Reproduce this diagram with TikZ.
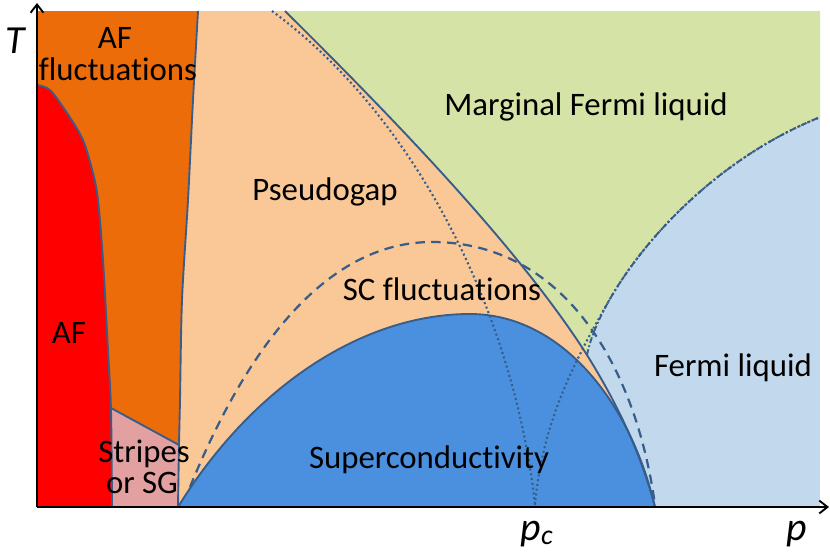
\documentclass[tikz,border=0pt]{standalone}
\usepackage{fontspec}
\setmainfont{Carlito}[Ligatures={NoCommon}]
\usetikzlibrary{arrows.meta}
\definecolor{afred}{RGB}{255,0,0}
\definecolor{aforange}{RGB}{236,108,10}
\definecolor{peach}{RGB}{250,200,150}
\definecolor{mfl}{RGB}{213,227,167}
\definecolor{flblue}{RGB}{194,217,237}
\definecolor{scblue}{RGB}{74,144,222}
\definecolor{sgpink}{RGB}{227,160,160}
\definecolor{linec}{RGB}{56,93,138}
\tikzset{
  bnd/.style={draw=linec, line width=1.6pt},
  dashbnd/.style={draw=linec, line width=1.9pt, dash pattern=on 8pt off 5.5pt},
  dotbnd/.style={draw=linec, line width=1.8pt, dash pattern=on 1.7pt off 2.4pt},
  dashdotbnd/.style={draw=linec, line width=1.6pt, dash pattern=on 5pt off 2pt on 1.6pt off 2pt},
  axisline/.style={draw=black, line width=2.4pt, -{Straight Barb[length=7pt,width=11pt,line width=1.6pt]}},
  lbl/.style={font=\fontsize{28}{28}\selectfont, inner sep=0pt, anchor=base},
  axlbl/.style={font=\fontsize{34}{34}\selectfont\itshape, inner sep=0pt, anchor=base}
}
\begin{document}
\begin{tikzpicture}[x=0.03cm,y=-0.03cm,line join=round]
\useasboundingbox (0,0) rectangle (830,553);
\fill[white] (0,0) rectangle (830,553);

% Fermi liquid background
\fill[flblue] (37,11) rectangle (820,507);
% Marginal Fermi liquid
\fill[mfl] (37,11) -- (820,11) -- (820,118) -- (818,118) .. controls (690,170) and (600,290) .. (587,355) -- (655,507) -- (37,507) -- cycle;
% Pseudogap
\fill[peach] (37,11) -- (285,11) .. controls (400,125) and (520,250) .. (587,355) .. controls (615,400) and (640,450) .. (655,507) -- (37,507) -- cycle;
% AF fluctuations
\fill[aforange] (37,11) -- plot[smooth] coordinates {(198,11) (193,100) (188,200) (182,300) (180,400) (179,445) (178,507)} -- (37,507) -- cycle;
% Stripes or SG
\fill[sgpink] (111,408) -- (179,445) -- (178,507) -- (112,507) -- cycle;
% AF
\fill[afred] plot[smooth] coordinates {(37,85) (50,90) (67,113) (83,140) (93,173) (98,200) (103,260) (108,350) (111,410) (112,507)} -- (37,507) -- cycle;
% Superconducting dome
\fill[scblue] (178,507) .. controls (250,390) and (360,314) .. (470,314) .. controls (560,314) and (630,400) .. (655,507) -- cycle;

% boundaries
\draw[bnd] plot[smooth] coordinates {(37,85) (50,90) (67,113) (83,140) (93,173) (98,200) (103,260) (108,350) (111,410) (112,507)};
\draw[bnd] plot[smooth] coordinates {(198,11) (193,100) (188,200) (182,300) (180,400) (179,445) (178,507)};
\draw[bnd] (111,408) -- (179,445);
\draw[bnd] (285,11) .. controls (400,125) and (520,250) .. (587,355) .. controls (615,400) and (640,450) .. (655,507);
\draw[bnd] (178,507) .. controls (250,390) and (360,314) .. (470,314) .. controls (560,314) and (630,400) .. (655,507);
\draw[dashbnd] (190,487) .. controls (250,340) and (330,242) .. (432,242) .. controls (560,242) and (635,360) .. (655,505);
\draw[dotbnd] (272,11) .. controls (420,120) and (515,320) .. (535,505);
\draw[dotbnd] (535,505) .. controls (542,430) and (566.4,374.2) .. (610.6,297.9) .. controls (647.4,234.25) and (722,157) .. (818,118);
\draw[dashdotbnd] (587,355) .. controls (600,290) and (690,170) .. (818,118);

% axes
\coordinate (O) at (37,507);
\coordinate (Ttip) at (37,3);
\coordinate (Ptip) at (829,507);
\draw[axisline] (O) -- (Ttip);
\draw[axisline] (O) -- (Ptip);

% labels
\node[lbl] (afa) at (115,48) {AF};
\node[lbl] (afb) at (118,80) {fluctuations};
\node[lbl] (af) at (69,343) {AF};
\node[lbl] (stra) at (144,462) {Stripes};
\node[lbl] (strb) at (142,493) {or SG};
\node[lbl] (pg) at (325,200) {Pseudogap};
\node[lbl] (mfl) at (586,115) {Marginal Fermi liquid};
\node[lbl] (scf) at (442,300) {SC fluctuations};
\node[lbl] (sc) at (429,468) {Superconductivity};
\node[lbl] (fl) at (733,376) {Fermi liquid};
\node[axlbl] (T) at (15,53) {T};
\node[axlbl] (p) at (797,540) {p};
\node[axlbl] (pc) at (537,540) {p\textsubscript{c}};
\end{tikzpicture}
\end{document}
